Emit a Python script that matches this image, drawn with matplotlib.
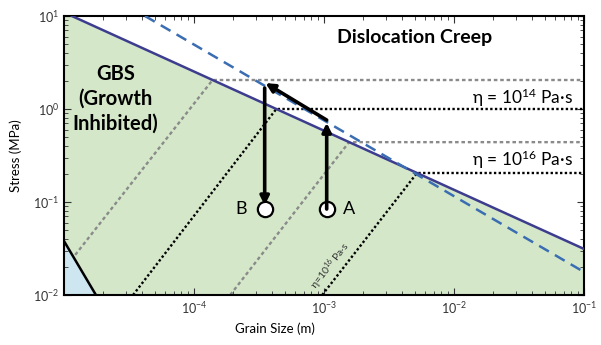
import matplotlib
matplotlib.use("Agg")
import matplotlib.pyplot as plt

plt.rcParams['font.family'] = ['Lato', 'DejaVu Sans']
plt.rcParams['mathtext.fontset'] = 'custom'
plt.rcParams['mathtext.rm'] = 'Lato'
plt.rcParams['mathtext.it'] = 'Lato:italic'
plt.rcParams['mathtext.bf'] = 'Lato:bold'

# boundary lines (grain size m, stress MPa)
solid_x = [1.15e-5, 1e-1]
solid_y = [10, 0.0313]
dashed_x = [4.2e-5, 1e-1]
dashed_y = [10, 0.0177]
blue_x = [1e-5, 1.76e-5]
blue_y = [0.038, 0.01]

# iso-viscosity lines: corner on the boundary, then down-left
iso_stress = [2.05, 1.0, 0.44, 0.205]
iso_corner_x = [1.39e-4, 4.3e-4, 1.56e-3, 5.2e-3]
iso_end_x = [1.22e-5, 3.4e-5, 1.9e-4, 9.7e-4]
iso_end_y = [0.027, 0.01, 0.01, 0.01]
iso_color = ['#8a8a8a', 'black', '#8a8a8a', 'black']

# points A and B
pt_A = (1.05e-3, 0.084)
pt_B = (3.5e-4, 0.084)
A_top = 0.71
diag_start = (1.05e-3, 0.76)
diag_end = (3.55e-4, 1.9)
B_top = 1.68

fig = plt.figure(figsize=(6.01, 3.45), dpi=100)
ax = fig.add_axes([0.1065, 0.145, 0.865, 0.8086])
ax.set_xscale('log')
ax.set_yscale('log')
ax.set_xlim(1e-5, 1e-1)
ax.set_ylim(1e-2, 1e1)

# fills
ax.fill([1e-5, solid_x[0], solid_x[1], 1e-1, 1e-5],
        [10, solid_y[0], solid_y[1], 0.01, 0.01], color='#d4e8c9', lw=0, zorder=0)
ax.fill([1e-5, blue_x[1], 1e-5], [blue_y[0], 0.01, 0.01], color='#cde6ef', lw=0, zorder=1)
ax.plot(blue_x, blue_y, color='black', lw=1.8, zorder=3)

for s, cx, ex, ey, c in zip(iso_stress, iso_corner_x, iso_end_x, iso_end_y, iso_color):
    ls = (0, (1.0, 1.0)) if c == 'black' else (0, (1.5, 1.2))
    ax.plot([ex, cx, 1e-1], [ey, s, s], color=c, lw=1.7, ls=ls, zorder=2)

ax.plot(solid_x, solid_y, color='#3d3d8f', lw=1.8, zorder=4)
ax.plot(dashed_x, dashed_y, color='#3a6db2', lw=1.8, ls=(0, (4.5, 2.8)), zorder=4)

# circles
for p in (pt_A, pt_B):
    ax.plot(*p, 'o', ms=11, mfc='white', mec='black', mew=1.6, zorder=5)

ap = dict(arrowstyle='-|>', color='black', lw=2.6, mutation_scale=13, shrinkA=0, shrinkB=0)
ax.annotate('', xy=(pt_A[0], A_top), xytext=pt_A, arrowprops=ap, zorder=6)
ax.annotate('', xy=diag_end, xytext=diag_start, arrowprops=ap, zorder=6)
ax.annotate('', xy=(pt_B[0], 0.092), xytext=(pt_B[0], B_top), arrowprops=ap, zorder=6)

ax.text(1.55e-3, pt_A[1], 'A', fontsize=13, va='center', ha='center')
ax.text(2.3e-4, pt_B[1], 'B', fontsize=13, va='center', ha='center')

ax.text(5e-3, 5.9, 'Dislocation Creep', fontsize=14, fontweight='bold', ha='center', va='center')
ax.text(2.5e-5, 1.3, 'GBS\n(Growth\nInhibited)', fontsize=14.5, fontweight='bold',
        ha='center', va='center', linespacing=1.3)
ax.text(0.083, 1.31, 'η = 10$^{14}$ Pa·s', fontsize=12.5, ha='right', va='center')
ax.text(0.083, 0.285, 'η = 10$^{16}$ Pa·s', fontsize=12.5, ha='right', va='center')
ax.text(1.12e-3, 0.0205, 'η=10$^{16}$ Pa·s', fontsize=7.5, rotation=52,
        ha='center', va='center', color='#333333')

ax.set_xlabel('Grain Size (m)', fontsize=9.5)
ax.xaxis.set_label_coords(0.405, -0.1)
ax.set_ylabel('Stress (MPa)', fontsize=9.5)
ax.yaxis.set_label_coords(-0.08, 0.5)
ax.set_xticks([1e-4, 1e-3, 1e-2, 1e-1])
ax.set_yticks([1e-2, 1e-1, 1e0, 1e1])
ax.tick_params(which='both', direction='in', top=True, right=True, labelsize=9, colors='#333333')
ax.tick_params(which='major', length=5, width=0.8)
ax.tick_params(which='minor', length=3, width=0.6)
for sp in ax.spines.values():
    sp.set_linewidth(1.5)

fig.savefig('out.png', dpi=100)
